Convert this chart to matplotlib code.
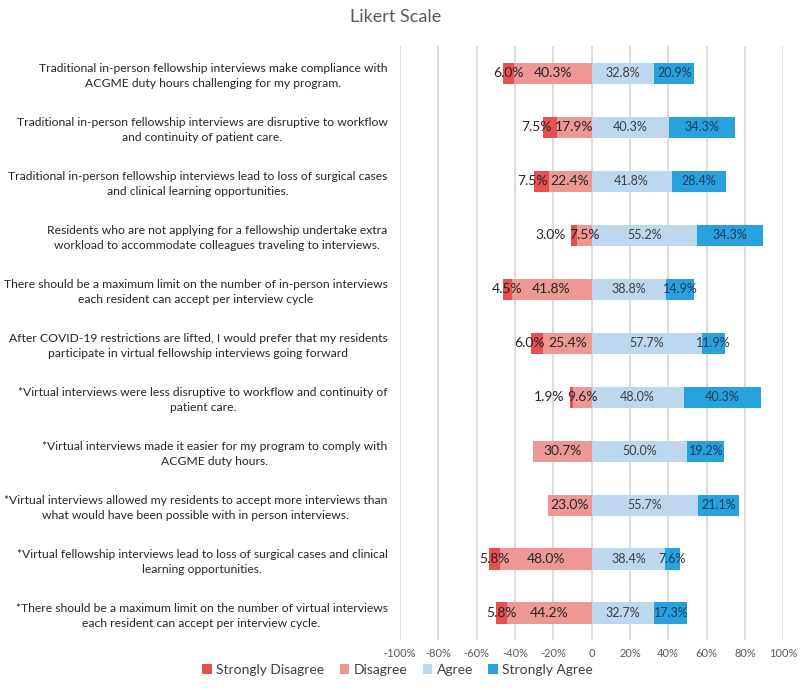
import matplotlib.pyplot as plt
import numpy as np

plt.rcParams['font.family'] = ['Lato', 'DejaVu Sans']

# survey statements, top to bottom
statements = [
    "Traditional in-person fellowship interviews make compliance with\nACGME duty hours challenging for my program.",
    "Traditional in-person fellowship interviews are disruptive to workflow\nand continuity of patient care.",
    "Traditional in-person fellowship interviews lead to loss of surgical cases\nand clinical learning opportunities.",
    "Residents who are not applying for a fellowship undertake extra\nworkload to accommodate colleagues traveling to interviews.",
    "There should be a maximum limit on the number of in-person interviews\neach resident can accept per interview cycle",
    "After COVID-19 restrictions are lifted, I would prefer that my residents\nparticipate in virtual fellowship interviews going forward",
    "*Virtual interviews were less disruptive to workflow and continuity of\npatient care.",
    "*Virtual interviews made it easier for my program to comply with\nACGME duty hours.",
    "*Virtual interviews allowed my residents to accept more interviews than\nwhat would have been possible with in person interviews.",
    "*Virtual fellowship interviews lead to loss of surgical cases and clinical\nlearning opportunities.",
    "*There should be a maximum limit on the number of virtual interviews\neach resident can accept per interview cycle.",
]

strongly_disagree = [6.0, 7.5, 7.5, 3.0, 4.5, 6.0, 1.9, 0.0, 0.0, 5.8, 5.8]
disagree = [40.3, 17.9, 22.4, 7.5, 41.8, 25.4, 9.6, 30.7, 23.0, 48.0, 44.2]
agree = [32.8, 40.3, 41.8, 55.2, 38.8, 57.7, 48.0, 50.0, 55.7, 38.4, 32.7]
strongly_agree = [20.9, 34.3, 28.4, 34.3, 14.9, 11.9, 40.3, 19.2, 21.1, 7.6, 17.3]

xticks = [-100, -80, -60, -40, -20, 0, 20, 40, 60, 80, 100]
xtick_labels = ["-100%", "-80%", "-60%", "-40%", "-20%", "0", "20%", "40%", "60%", "80%", "100%"]

c_sd = "#E8504F"
c_d = "#EE9896"
c_a = "#BDD7EE"
c_sa = "#27A2DD"

fig = plt.figure(figsize=(8, 6.9), dpi=100)
ax = fig.add_axes([0.5, 0.0725, 0.479, 0.8605])

y = np.arange(len(statements))
sd = np.array(strongly_disagree)
d = np.array(disagree)
a = np.array(agree)
sa = np.array(strongly_agree)
h = 0.39

b_sd = ax.barh(y, -sd, left=-d, height=h, color=c_sd, label="Strongly Disagree", zorder=2)
b_d = ax.barh(y, -d, height=h, color=c_d, label="Disagree", zorder=2)
b_a = ax.barh(y, a, height=h, color=c_a, label="Agree", zorder=2)
b_sa = ax.barh(y, sa, left=a, height=h, color=c_sa, label="Strongly Agree", zorder=2)

# data labels
sd_texts = []
d_texts = []
for i in range(len(y)):
    if sd[i] > 0:
        t = ax.annotate(f"{sd[i]:.1f}%", (-d[i] - sd[i] / 2, y[i]), xytext=(0, 0),
                        textcoords="offset points", ha="center", va="center",
                        fontsize=10, color="#262626", zorder=3)
        sd_texts.append((i, t))
    td = ax.text(-d[i] / 2, y[i], f"{d[i]:.1f}%", ha="center", va="center",
                 fontsize=10, color="#262626", zorder=3)
    d_texts.append(td)
    ax.text(a[i] / 2, y[i], f"{a[i]:.1f}%", ha="center", va="center",
            fontsize=9, color="#404040", zorder=3)
    ax.text(a[i] + sa[i] / 2, y[i], f"{sa[i]:.1f}%", ha="center", va="center",
            fontsize=9, color="#1F3A5A", zorder=3)

ax.set_xlim(-100, 100)
ax.set_ylim(len(y) - 0.5, -0.5)
ax.set_xticks(xticks)
ax.set_xticklabels(xtick_labels, fontsize=8, color="#595959")
ax.set_yticks(y)
ax.set_yticklabels(statements, fontsize=8.7, color="#262626",
                   multialignment="center", linespacing=1.45)
ax.tick_params(axis="both", length=0)
ax.tick_params(axis="y", pad=9)
ax.tick_params(axis="x", pad=6)
ax.grid(axis="x", color="#D9D9D9", linewidth=1.3, zorder=0)
for s in ["top", "right", "bottom", "left"]:
    ax.spines[s].set_visible(False)

fig.text(0.494, 0.975, "Likert Scale", ha="center", va="center", fontsize=13, color="#595959")

fig.legend(handles=[b_sd, b_d, b_a, b_sa], loc="center", bbox_to_anchor=(0.497, 0.029),
           ncol=4, frameon=False, fontsize=10, handlelength=0.7, handleheight=0.7,
           handletextpad=0.3, columnspacing=1.1, labelcolor="#404040")

# move small strongly-disagree labels out of the way of the disagree labels
fig.canvas.draw()
r = fig.canvas.get_renderer()
for i, t in sd_texts:
    bb = t.get_window_extent(r)
    bd = d_texts[i].get_window_extent(r)
    if bb.x1 > bd.x0 - 3:
        shift = (bd.x0 - 3) - bb.x1
        t.set_position((shift * 72 / fig.dpi, 0))

fig.savefig("out.png", dpi=100)
